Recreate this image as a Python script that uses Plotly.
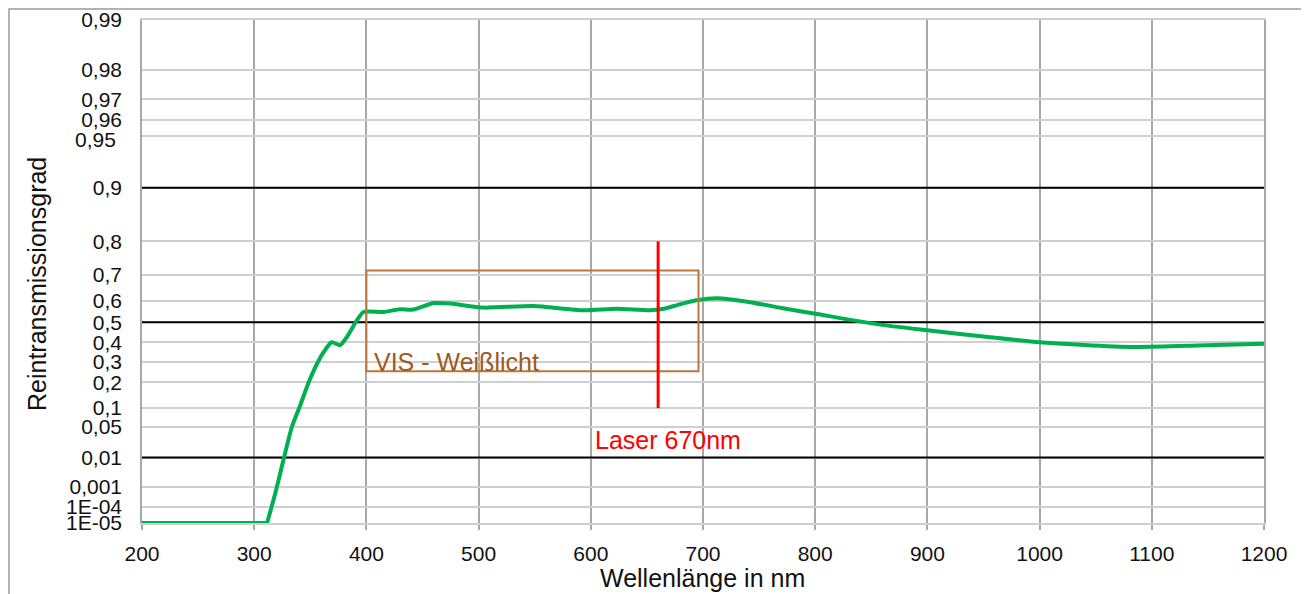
import numpy as np
import plotly.graph_objects as go

# ---------------- data ----------------
wavelength = [200, 311.5, 318.8, 326, 333.6, 341, 348.5, 356, 362, 369, 376.7, 382.6,
              391.5, 397.4, 415, 430, 442, 460, 475, 504, 549, 593, 623, 653, 665,
              677, 694, 712, 742, 770, 800, 856, 900, 954, 1000, 1047, 1088, 1141, 1200]
transmission = [1e-5, 1e-5, 5e-4, 0.0084, 0.05, 0.109, 0.2, 0.29, 0.35, 0.40, 0.385, 0.427,
                0.509, 0.549, 0.549, 0.561, 0.56, 0.589, 0.587, 0.569, 0.576, 0.557, 0.564, 0.557, 0.564,
                0.58, 0.601, 0.61, 0.593, 0.567, 0.541, 0.49, 0.461, 0.427, 0.40, 0.384, 0.376, 0.383, 0.393]

y_tick_values = [0.99, 0.98, 0.97, 0.96, 0.95, 0.9, 0.8, 0.7, 0.6, 0.5, 0.4, 0.3, 0.2, 0.1,
                 0.05, 0.01, 0.001, 1e-4, 1e-5]
y_tick_labels = ["0,99", "0,98", "0,97", "0,96", "0,95", "0,9", "0,8", "0,7", "0,6", "0,5",
                 "0,4", "0,3", "0,2", "0,1", "0,05", "0,01", "0,001", "1E-04", "1E-05"]
black_grid_values = [0.9, 0.5, 0.01]
x_tick_values = list(range(200, 1201, 100))
x_range = [200, 1200]

vis_box_wl = [400, 696]
vis_box_t = [0.253, 0.715]
laser_wl = 660
laser_t = [0.1, 0.8]


def gumbel(t):
    """Transmission scale used by the chart: y = -ln(-ln(T))."""
    t = np.asarray(t, dtype=float)
    return -np.log(-np.log(t))


FONT = "Liberation Sans, Arial, sans-serif"
BODY = 8  # default page margin of the html body
W, H = 1309 - BODY, 594 - BODY
ML, MR, MT, MB = 142 - BODY, 45, 20 - BODY, 71
PW, PH = W - ML - MR, H - MT - MB


def px_x(px):
    return (px - BODY - ML) / PW


def px_y(py):
    return 1 - (py - BODY - MT) / PH


fig = go.Figure()
# emphasised (black) grid lines, drawn as traces under the curve
for v in black_grid_values:
    fig.add_trace(go.Scatter(
        x=x_range, y=[float(gumbel(v))] * 2, mode="lines",
        line=dict(color="black", width=2), hoverinfo="skip", showlegend=False,
        cliponaxis=False,
    ))

# split the flat bottom part from the smooth curve
split = 1
fig.add_trace(go.Scatter(
    x=wavelength[:split + 1], y=gumbel(transmission[:split + 1]), mode="lines",
    line=dict(color="#00B050", width=4), hoverinfo="skip", showlegend=False,
))
fig.add_trace(go.Scatter(
    x=wavelength[split:], y=gumbel(transmission[split:]), mode="lines",
    line=dict(color="#00B050", width=4, shape="spline", smoothing=0.6),
    hoverinfo="skip", showlegend=False,
))

shapes = []
# VIS box
shapes.append(dict(type="rect", xref="x", yref="y",
                   x0=vis_box_wl[0], x1=vis_box_wl[1],
                   y0=float(gumbel(vis_box_t[0])), y1=float(gumbel(vis_box_t[1])),
                   line=dict(color="#BC773A", width=2), layer="above"))
# laser line
shapes.append(dict(type="line", xref="x", yref="y", x0=laser_wl, x1=laser_wl,
                   y0=float(gumbel(laser_t[0])), y1=float(gumbel(laser_t[1])),
                   line=dict(color="#FF0000", width=3), layer="above"))
# chart border
shapes.append(dict(type="rect", xref="paper", yref="paper",
                   x0=px_x(9), x1=px_x(1306), y0=px_y(640), y1=px_y(9),
                   line=dict(color="#9a9a9a", width=1.5), layer="below"))

TICK_FONT = dict(family=FONT, size=21, color="#111111")
annotations = [
    dict(text="VIS - Weißlicht", x=px_x(372), y=px_y(362), xref="paper", yref="paper",
         xanchor="left", yanchor="middle", showarrow=False,
         font=dict(family=FONT, size=25, color="#9C5A1E")),
    dict(text="Laser 670nm", x=px_x(668), y=px_y(440), xref="paper", yref="paper",
         xanchor="center", yanchor="middle", showarrow=False,
         font=dict(family=FONT, size=25, color="#FF0000")),
    dict(text="Wellenlänge in nm", x=px_x(702), y=px_y(578), xref="paper", yref="paper",
         xanchor="center", yanchor="middle", showarrow=False,
         font=dict(family=FONT, size=25, color="#111111")),
    dict(text="Reintransmissionsgrad", x=px_x(37), y=px_y(284), xref="paper", yref="paper",
         xanchor="center", yanchor="middle", textangle=-90, showarrow=False,
         font=dict(family=FONT, size=25, color="#111111")),
    # 0,95 label nudged like in the original
    dict(text="0,95", x=px_x(118), y=px_y(139), xref="paper", yref="paper",
         xanchor="right", yanchor="middle", showarrow=False, font=TICK_FONT),
]

tick_text_axis = [("" if lab == "0,95" else lab) for lab in y_tick_labels]

fig.update_layout(
    width=W, height=H,
    margin=dict(l=ML, r=MR, t=MT, b=MB, autoexpand=False),
    paper_bgcolor="white", plot_bgcolor="white",
    shapes=shapes, annotations=annotations,
    xaxis=dict(range=x_range, tickvals=x_tick_values,
               ticktext=[str(v) for v in x_tick_values],
               showgrid=True, gridcolor="#a8a8a8", gridwidth=1.5,
               showline=True, linecolor="#cfcfcf", linewidth=1.5, mirror=True,
               ticks="outside", ticklen=5, tickcolor="#a8a8a8", tickwidth=1.5,
               ticklabelstandoff=6, zeroline=False, tickfont=TICK_FONT),
    yaxis=dict(range=[float(gumbel(1e-5)), float(gumbel(0.99))],
               tickvals=[float(v) for v in gumbel(y_tick_values)], ticktext=tick_text_axis,
               showgrid=True, gridcolor="#cfcfcf", gridwidth=1.5,
               showline=True, linecolor="#a8a8a8", linewidth=1.5, mirror=True,
               ticks="", ticklabelstandoff=14, zeroline=False, tickfont=TICK_FONT),
)

fig.write_html("out.html")
